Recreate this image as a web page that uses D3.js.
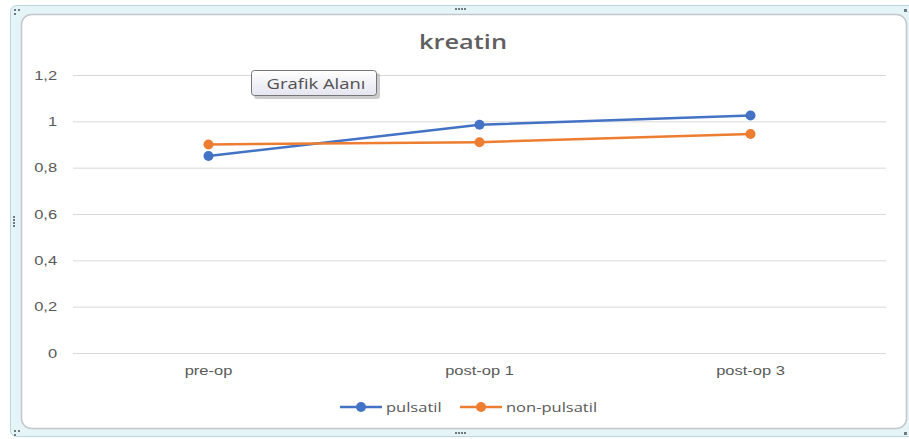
<!DOCTYPE html>
<html>
<head>
<meta charset="utf-8">
<script src="https://cdn.jsdelivr.net/npm/d3@7"></script>
<style>
  body { margin: 0; background: #fff; overflow: hidden; }
  svg { display: block; font-family: "Open Sans", "Noto Sans", sans-serif; }
</style>
</head>
<body>
<svg id="svg"></svg>
<script>
// data
let categories = ['pre-op', 'post-op 1', 'post-op 3']
let pulsatil = [0.85, 0.985, 1.025]
let nonPulsatil = [0.9, 0.91, 0.945]
let yTicks = [0, 0.2, 0.4, 0.6, 0.8, 1, 1.2]
let seriesNames = ['pulsatil', 'non-pulsatil']
let seriesColors = ['#4472C4', '#ED7D31']

let W = 909, H = 439
let sx = 1.27 //the screenshot text is stretched sideways
let svg = d3.select('#svg').attr('width', W).attr('height', H)

//outer selection frame (excel style)
svg.append('rect')
    .attr('x', 10.5).attr('y', 5.5)
    .attr('width', 910).attr('height', 431)
    .attr('rx', 6)
    .attr('fill', '#e4f4f7')
    .attr('stroke', '#bcd6dc')
svg.append('rect')
    .attr('x', 21.5).attr('y', 14.5)
    .attr('width', 885).attr('height', 414)
    .attr('rx', 10)
    .attr('fill', '#fff')
    .attr('stroke', '#c4c8ca')
    .attr('stroke-width', 1.5)

//handles
let handle = (cx, cy, vertical) => {
    for (let i = 0; i < 4; i++) {
        svg.append('rect')
            .attr('x', vertical ? cx : cx + i * 3)
            .attr('y', vertical ? cy + i * 3 : cy)
            .attr('width', 2).attr('height', 2)
            .attr('fill', '#6f7a80')
    }
}
handle(455, 8, false)
handle(455, 432, false)
handle(13, 216, true)
let corner = (cx, cy) => {
    [[0, 0], [4, 0], [0, 4]].forEach(p => {
        svg.append('rect').attr('x', cx + p[0]).attr('y', cy + p[1])
            .attr('width', 2).attr('height', 2).attr('fill', '#6f7a80')
    })
}
corner(14, 9)
corner(14, 430)
svg.append('rect').attr('x', 904).attr('y', 9).attr('width', 3).attr('height', 3).attr('fill', '#6f7a80')
svg.append('rect').attr('x', 904).attr('y', 432).attr('width', 3).attr('height', 3).attr('fill', '#6f7a80')

//scales
let pLeft = 73, pRight = 886, pTop = 75, pBottom = 353
let x = d3.scaleBand().domain(categories).range([pLeft, pRight])
let y = d3.scaleLinear().domain([0, 1.2]).range([pBottom, pTop])
let fmt = d => d3.format('~g')(d).replace('.', ',')

//stretched text helper
let label = (px, py, txt, size, anchor) => svg.append('g')
    .attr('transform', `translate(${px},${py}) scale(${sx},1)`)
    .append('text')
    .attr('text-anchor', anchor)
    .attr('font-size', size)
    .attr('fill', '#595959')
    .text(txt)

//grid
let yAxis = d3.axisLeft(y).tickValues(yTicks).tickSize(-(pRight - pLeft)).tickFormat(fmt).tickPadding(12.5)
let yGroup = svg.append('g')
    .attr('transform', `translate(${pLeft},0)`)
    .call(yAxis)
yGroup.select('.domain').remove()
yGroup.selectAll('line').attr('stroke', '#d9d9d9')
yGroup.selectAll('text').attr('fill', '#595959').attr('font-size', 13)
    .attr('transform', `scale(${sx},1)`)

let xAxis = d3.axisBottom(x).tickSize(0).tickPadding(13)
let xGroup = svg.append('g')
    .attr('transform', `translate(0,${pBottom})`)
    .call(xAxis)
xGroup.select('.domain').remove()
xGroup.selectAll('text').attr('fill', '#595959').attr('font-size', 13)
    .attr('transform', `scale(${sx},1)`)

//title
label(463, 49, 'kreatin', 20, 'middle').attr('font-weight', 600).attr('fill', '#5f5f5f')

//lines
let line = d3.line().x((d, i) => x(categories[i]) + x.bandwidth() / 2).y(d => y(d))
;[pulsatil, nonPulsatil].forEach((s, k) => {
    let g = svg.append('g')
    g.append('path')
        .attr('d', line(s))
        .attr('fill', 'none')
        .attr('stroke', seriesColors[k])
        .attr('stroke-width', 2.5)
    g.selectAll('circle')
        .data(s)
        .join('circle')
        .attr('cx', (d, i) => x(categories[i]) + x.bandwidth() / 2)
        .attr('cy', d => y(d))
        .attr('r', 5)
        .attr('fill', seriesColors[k])
})

//legend
let legX = [340, 460]
seriesNames.forEach((n, k) => {
    let g = svg.append('g').attr('transform', `translate(${legX[k]},407)`)
    g.append('line').attr('x1', 0).attr('x2', 42)
        .attr('stroke', seriesColors[k]).attr('stroke-width', 2.5)
    g.append('circle').attr('cx', 21).attr('r', 5).attr('fill', seriesColors[k])
    label(legX[k] + 46, 411.5, n, 13, 'start')
})

//tooltip "Grafik Alanı"
let defs = svg.append('defs')
let grad = defs.append('linearGradient').attr('id', 'tip').attr('x1', 0).attr('y1', 0).attr('x2', 0).attr('y2', 1)
grad.append('stop').attr('offset', '0%').attr('stop-color', '#ffffff')
grad.append('stop').attr('offset', '100%').attr('stop-color', '#e4e5f0')
svg.append('rect')
    .attr('x', 254).attr('y', 73).attr('width', 126).attr('height', 26).attr('rx', 3)
    .attr('fill', '#9a9a9a').attr('opacity', 0.5)
svg.append('rect')
    .attr('x', 251.5).attr('y', 70.5).attr('width', 125).attr('height', 25).attr('rx', 3)
    .attr('fill', 'url(#tip)').attr('stroke', '#767676')
label(316, 89, 'Grafik Alanı', 14.5, 'middle').attr('fill', '#505050')
</script>
</body>
</html>
